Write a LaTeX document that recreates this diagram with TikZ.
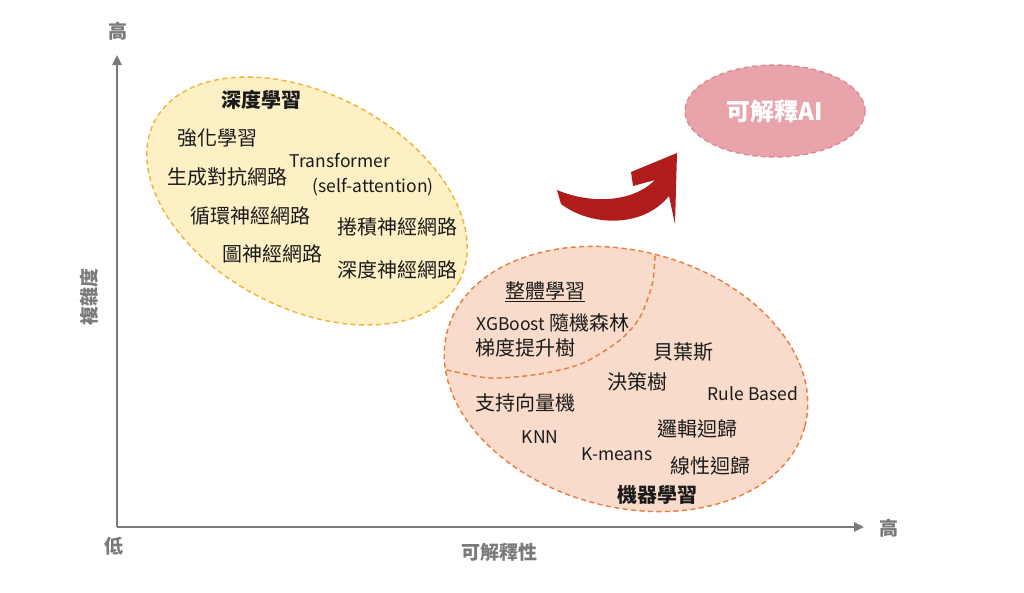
\documentclass[tikz,border=0pt]{standalone}
\usepackage{fontspec}
\setmainfont{Noto Sans CJK TC}
\usetikzlibrary{arrows.meta,shapes.geometric}
\definecolor{axisgray}{HTML}{7A7A7A}
\definecolor{yfill}{HTML}{FDF0C4}
\definecolor{ydraw}{HTML}{F2B234}
\definecolor{ofill}{HTML}{F8DBCA}
\definecolor{odraw}{HTML}{EB7A3C}
\definecolor{pfill}{HTML}{E8A4AA}
\definecolor{pdraw}{HTML}{D98A92}
\definecolor{arrred}{HTML}{B01C1C}
\definecolor{txt}{HTML}{1A1A1A}
\newcommand{\latsize}{\fontsize{17.5}{20}\selectfont}
\tikzset{
  lbl/.style={font=\fontsize{20}{22}\selectfont, text=txt, inner sep=1pt},
  latlbl/.style={font=\latsize, text=txt, inner sep=1pt},
  head/.style={lbl, font=\fontsize{20}{22}\selectfont\bfseries},
  axlbl/.style={font=\fontsize{19}{21}\selectfont\bfseries, text=axisgray, inner sep=1pt},
  axisline/.style={draw=axisgray, line width=2.4pt, -{Triangle[length=10pt,width=9pt]}},
  region/.style={line width=1.4pt, dash pattern=on 5pt off 3.5pt},
}
\begin{document}
\begin{tikzpicture}[x=1pt,y=-1pt]
\useasboundingbox[fill=white] (0,0) rectangle (1024,592);
% axes
\coordinate (o) at (117,527);
\coordinate (ytop) at (117,55);
\coordinate (xend) at (864,527);
\draw[axisline] (o) -- (ytop);
\draw[axisline] (o) -- (xend);
\node[axlbl] (yhigh) at (118,31) {高};
\node[axlbl] (low) at (114,546) {低};
\node[axlbl] (xhigh) at (889,528) {高};
\node[axlbl] (xlabel) at (499,552) {可解釋性};
\node[axlbl, rotate=90] (ylabel) at (89,297) {複雜度};
% yellow region
\draw[region, fill=yfill, draw=ydraw] (307,201) ellipse [x radius=172, y radius=107, rotate=-27.7];
% orange region
\draw[region, fill=ofill, draw=odraw] (626,379) ellipse [x radius=185, y radius=128, rotate=-15];
\begin{scope}
\clip (626,379) ellipse [x radius=185, y radius=128, rotate=-15];
\draw[region, draw=odraw] plot[smooth] coordinates {(430,366) (447,370) (490,378) (540,374) (583,363) (620,340) (640,317) (652,285) (655,258) (656,240)};
\end{scope}
% explainable AI
\node[ellipse, region, fill=pfill, draw=pdraw, minimum width=180pt, minimum height=92pt,
      text=white, font=\fontsize{24}{26}\selectfont\bfseries] (xai) at (775,111) {可解釋AI};
% red arrow
\fill[arrred] (557,190) .. controls (590,204) and (632,203) .. (655,180)
  -- (633,186) -- (631,172) -- (677,153) -- (675,224) -- (669,196)
  .. controls (642,229) and (590,226) .. (561,204) -- cycle;
% deep learning texts
\node[head] (dl) at (261,100) {深度學習};
\node[lbl] (rl) at (217,138) {強化學習};
\node[lbl] (gan) at (227,177) {生成對抗網路};
\node[latlbl] (tf1) at (340,161) {Transformer};
\node[latlbl] (tf2) at (373,187) {(self-attention)};
\node[lbl] (rnn) at (250,216) {循環神經網路};
\node[lbl] (cnn) at (397,227) {捲積神經網路};
\node[lbl] (gnn) at (272,254) {圖神經網路};
\node[lbl] (dnn) at (397,270) {深度神經網路};
% machine learning texts
\node[lbl] (ens) at (545,292) {\underline{整體學習}};
\node[lbl] (xgb) at (553,323) {{\latsize XGBoost} 隨機森林};
\node[lbl] (gbt) at (525,348) {梯度提升樹};
\node[lbl] (bay) at (683,352) {貝葉斯};
\node[lbl] (dt) at (637,382) {決策樹};
\node[latlbl] (rule) at (753,394) {Rule Based};
\node[lbl] (svm) at (525,403) {支持向量機};
\node[lbl] (lgr) at (697,429) {邏輯迴歸};
\node[latlbl] (knn) at (540,437) {KNN};
\node[latlbl] (km) at (617,454) {K-means};
\node[lbl] (lin) at (710,466) {線性迴歸};
\node[head] (ml) at (657,495) {機器學習};
\end{tikzpicture}
\end{document}
